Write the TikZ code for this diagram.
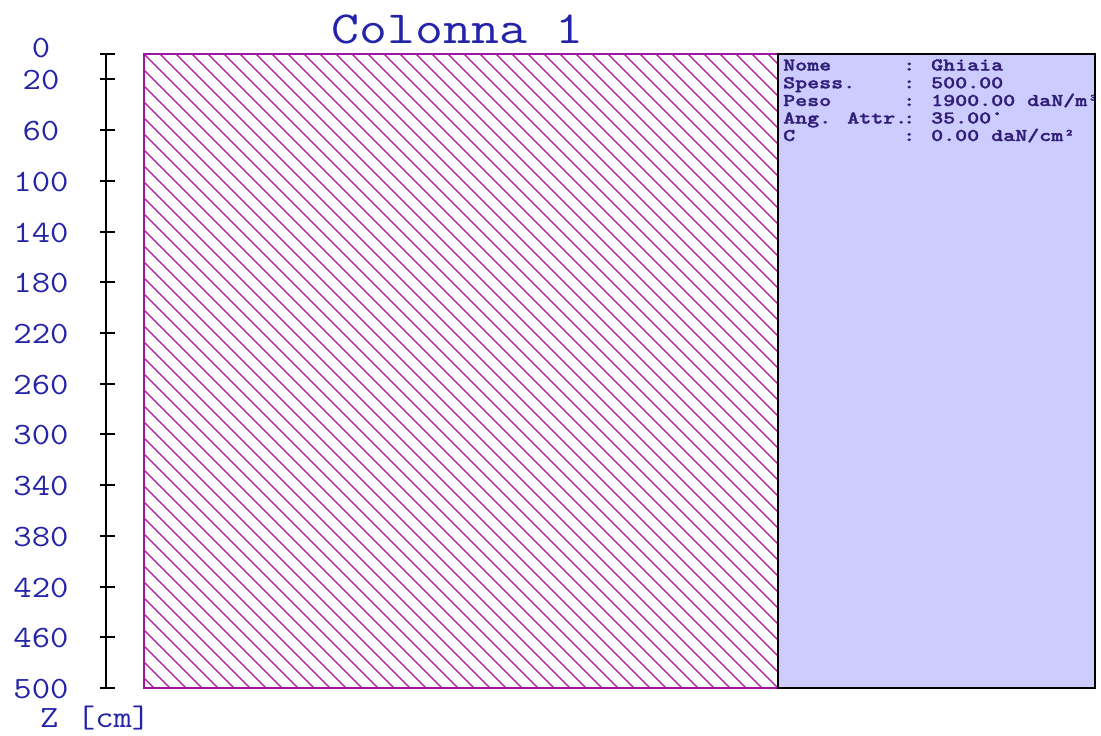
\documentclass[tikz,border=0pt]{standalone}
\usepackage{graphicx}
\usepackage{fontspec}
\newfontfamily\infofont[FakeBold=1.5]{lmmonolt10-bold.otf}
\definecolor{axblue}{RGB}{36,36,168}
\definecolor{infotext}{RGB}{50,30,120}
\definecolor{hatchc}{RGB}{160,20,160}
\definecolor{infofill}{RGB}{204,204,255}
\begin{document}
\begin{tikzpicture}[x=1pt,y=-1pt,
  axlab/.style={font=\ttfamily\fontsize{31}{31}\selectfont, text=axblue, inner sep=0pt},
  titlestyle/.style={font=\ttfamily\fontsize{46}{46}\selectfont, text=axblue, inner sep=0pt},
  infolab/.style={font=\infofont\fontsize{18}{18}\selectfont, text=infotext, inner sep=0pt, anchor=base west},
  axisline/.style={draw=black, line width=2pt},
  hatchline/.style={draw=hatchc, line width=1.3pt},
  hatchborder/.style={draw=hatchc, line width=2pt},
  infobox/.style={draw=black, fill=infofill, line width=2pt}]
\useasboundingbox (0,0) rectangle (1101,736);
% title
\node[titlestyle, anchor=base] (title) at (457.5,43) {\scalebox{1.18}[1]{Colonna 1}};
% info box
\draw[infobox] (778,54) rectangle (1095,688);
% hatched region
\begin{scope}
  \clip (144,54) rectangle (778,688);
  \foreach \k in {-41,...,41} {
    \draw[hatchline] ({90+16*\k+54},54) -- ({90+16*\k+688},688);
  }
\end{scope}
\draw[hatchborder] (144,54) rectangle (778,688);
\draw[infobox, fill=none] (778,54) rectangle (1095,688);
% axis
\draw[axisline] (106,54) -- (106,688);
\foreach \v in {0,20,60,100,...,500} {
  \draw[axisline] (100,{54+1.268*\v}) -- (115,{54+1.268*\v});
}
\node[axlab] (lab0) at (41,48) {\scalebox{1.15}[1]{0}};
\foreach \v in {20,60,100,...,500} {
  \node[axlab] (lab\v) at (41,{55+1.268*\v}) {\scalebox{1.15}[1]{\v}};
}
\node[axlab, anchor=base west] (zunit) at (40,727) {\scalebox{1.15}[1]{Z [cm]}};
% info text
\begin{scope}
  \clip (779,55) rectangle (1094,687);
  \node[infolab] (n1) at (783,70.5) {\scalebox{1.27}[1]{Nome}};
  \node[infolab] (v1) at (903,70.5) {\scalebox{1.27}[1]{: Ghiaia}};
  \node[infolab] (n2) at (783,88.3) {\scalebox{1.27}[1]{Spess.}};
  \node[infolab] (v2) at (903,88.3) {\scalebox{1.27}[1]{: 500.00}};
  \node[infolab] (n3) at (783,106) {\scalebox{1.27}[1]{Peso}};
  \node[infolab] (v3) at (903,106) {\scalebox{1.27}[1]{: 1900.00 daN/m³}};
  \node[infolab] (n4) at (783,123.5) {\scalebox{1.27}[1]{Ang. Attr.}};
  \node[infolab] (v4) at (903,123.5) {\scalebox{1.27}[1]{: 35.00°}};
  \node[infolab] (n5) at (783,141) {\scalebox{1.27}[1]{C}};
  \node[infolab] (v5) at (903,141) {\scalebox{1.27}[1]{: 0.00 daN/cm²}};
\end{scope}
\end{tikzpicture}
\end{document}
